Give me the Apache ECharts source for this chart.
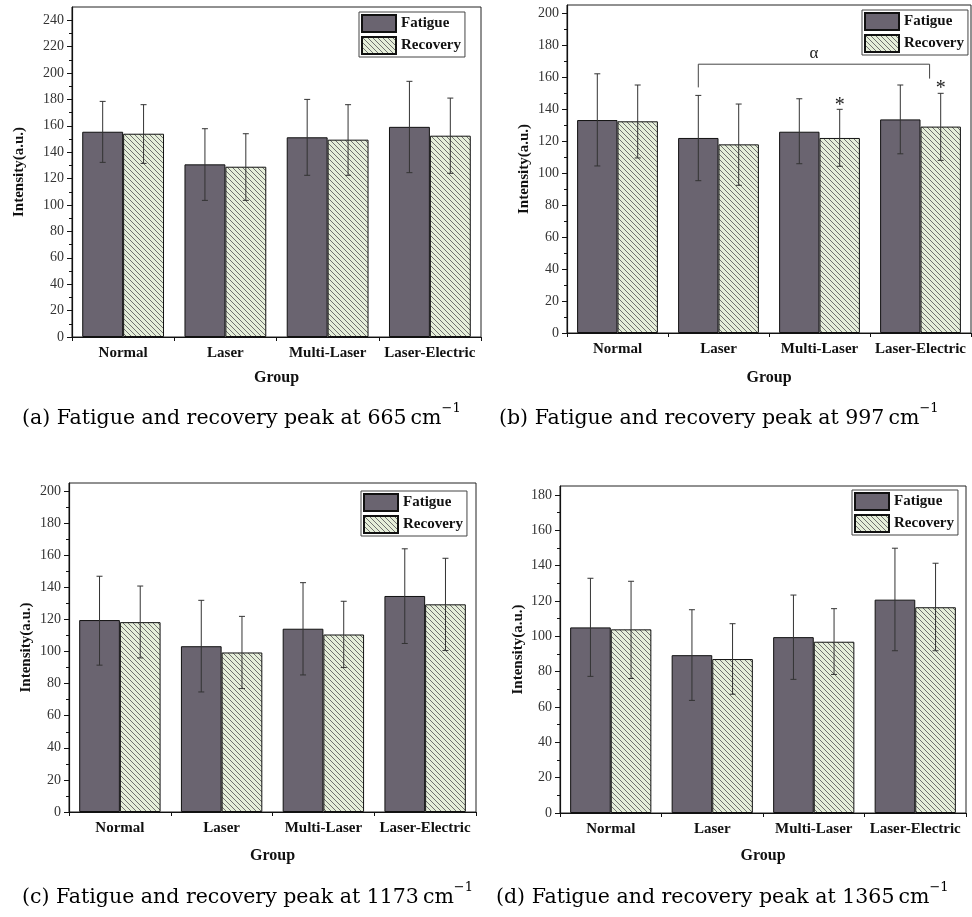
<!DOCTYPE html>
<html><head><meta charset="utf-8">
<script src="https://cdn.jsdelivr.net/npm/echarts@6/dist/echarts.min.js"></script>
<style>html,body{margin:0;padding:0;background:#fff}#c{width:972px;height:917px}</style>
</head><body><div id="c"></div>
<script>
// ---------- data ----------
const categories = ['Normal', 'Laser', 'Multi-Laser', 'Laser-Electric'];
const seriesNames = ['Fatigue', 'Recovery'];

// panel (a) 665 cm-1
const fatigueA = [155.5, 130.8, 151.3, 159.2];
const fatigueHiA = [178.5, 157.8, 180, 193.7];
const fatigueLoA = [132.3, 103.5, 122.5, 124.5];
const recoveryA = [154, 129, 149.5, 152.5];
const recoveryHiA = [176, 154, 176, 181];
const recoveryLoA = [131.5, 103.5, 122.5, 124];

// panel (b) 997 cm-1
const fatigueB = [133.1, 121.9, 125.8, 133.5];
const fatigueHiB = [162, 148.5, 146.4, 155];
const fatigueLoB = [104.4, 95.2, 105.8, 112];
const recoveryB = [132.3, 117.9, 121.9, 129];
const recoveryHiB = [155, 143.1, 139.8, 149.8];
const recoveryLoB = [109.4, 92.3, 104.2, 107.9];

// panel (c) 1173 cm-1
const fatigueC = [119.6, 103.3, 114.2, 134.6];
const fatigueHiC = [146.9, 131.9, 142.9, 164];
const fatigueLoC = [91.5, 74.8, 85.4, 105];
const recoveryC = [118.3, 99.4, 110.6, 129.4];
const recoveryHiC = [140.8, 121.9, 131.3, 158.1];
const recoveryLoC = [96, 76.9, 90, 100.6];

// panel (d) 1365 cm-1
const fatigueD = [105, 89.3, 99.5, 120.7];
const fatigueHiD = [132.8, 115, 123.3, 149.8];
const fatigueLoD = [77.3, 63.7, 75.6, 91.8];
const recoveryD = [103.9, 87.1, 96.9, 116.4];
const recoveryHiD = [131.1, 107.1, 115.6, 141.3];
const recoveryLoD = [76.1, 67.2, 78.4, 91.8];

// axis ranges and tick labels
const yMaxes = [250, 205, 205, 185];
const yTicksA = [0, 20, 40, 60, 80, 100, 120, 140, 160, 180, 200, 220, 240];
const yTicksB = [0, 20, 40, 60, 80, 100, 120, 140, 160, 180, 200];
const yTicksC = [0, 20, 40, 60, 80, 100, 120, 140, 160, 180, 200];
const yTicksD = [0, 20, 40, 60, 80, 100, 120, 140, 160, 180];

// significance annotations in panel (b): [catFrom, offFrom, catTo, offTo, topValue, leftEndValue, rightEndValue]
const bracketB = [[1, -0.2, 3, 0.09, 168, 153.5, 159]];
const bracketLabel = 'α';
// stars: [category, offset, value]
const starsB = [[2, 0.2, 145.8], [3, 0.2, 156.5]];

const captions = [
  ['(a) Fatigue and recovery peak at 665', 'cm'],
  ['(b) Fatigue and recovery peak at 997', 'cm'],
  ['(c) Fatigue and recovery peak at 1173', 'cm'],
  ['(d) Fatigue and recovery peak at 1365', 'cm']
];

// ---------- layout ----------
const grids = [
  {left: 72, top: 7, width: 409, height: 330},
  {left: 567, top: 5, width: 404, height: 328},
  {left: 69, top: 483, width: 407, height: 329},
  {left: 560, top: 486, width: 406, height: 327}
];
const yNameGaps = [45, 35, 35, 34];
const xNameGaps = [33, 37, 36, 35];
const legendPos = [[359, 12], [862, 10], [361, 491], [852, 490]];
const captionPos = [[22, 402], [499, 402], [22, 881], [496, 881]];

const panels = [
  {f: fatigueA, fh: fatigueHiA, fl: fatigueLoA, r: recoveryA, rh: recoveryHiA, rl: recoveryLoA, ticks: yTicksA},
  {f: fatigueB, fh: fatigueHiB, fl: fatigueLoB, r: recoveryB, rh: recoveryHiB, rl: recoveryLoB, ticks: yTicksB},
  {f: fatigueC, fh: fatigueHiC, fl: fatigueLoC, r: recoveryC, rh: recoveryHiC, rl: recoveryLoC, ticks: yTicksC},
  {f: fatigueD, fh: fatigueHiD, fl: fatigueLoD, r: recoveryD, rh: recoveryHiD, rl: recoveryLoD, ticks: yTicksD}
];

// hatch pattern
function makeHatch() {
  const s = 5;
  const cv = document.createElement('canvas');
  cv.width = s; cv.height = s;
  const ctx = cv.getContext('2d');
  ctx.fillStyle = '#e5eed9';
  ctx.fillRect(0, 0, s, s);
  ctx.strokeStyle = '#707070';
  ctx.lineWidth = 1;
  ctx.beginPath();
  ctx.moveTo(-1, -1); ctx.lineTo(s + 1, s + 1);
  ctx.moveTo(-1, s - 1); ctx.lineTo(1, s + 1);
  ctx.moveTo(s - 1, -1); ctx.lineTo(s + 1, 1);
  ctx.stroke();
  return cv;
}
const hatch = makeHatch();

const FONT = 'Liberation Serif, Times New Roman, serif';
const CAPFONT = 'DejaVu Serif, serif';
const fatigueColor = '#6a6470';

const option = {
  animation: false,
  backgroundColor: '#fff',
  grid: [], xAxis: [], yAxis: [], series: [], legend: [], graphic: []
};

panels.forEach((p, i) => {
  option.grid.push(Object.assign({show: true, borderColor: '#222', borderWidth: 1, backgroundColor: 'transparent'}, grids[i]));
  option.xAxis.push({
    type: 'category', gridIndex: i, data: categories,
    name: 'Group', nameLocation: 'middle', nameGap: xNameGaps[i],
    nameTextStyle: {fontFamily: FONT, fontWeight: 'bold', fontSize: 16, color: '#111'},
    axisLine: {lineStyle: {color: '#111', width: 1.2}},
    axisTick: {show: true, interval: 0, length: 4, lineStyle: {color: '#111'}},
    axisLabel: {interval: 0, fontFamily: FONT, fontWeight: 'bold', fontSize: 15, color: '#111', margin: 9},
    splitLine: {show: false}
  });
  option.yAxis.push({
    type: 'value', gridIndex: i, min: 0, max: yMaxes[i], interval: 20,
    name: 'Intensity(a.u.)', nameLocation: 'middle', nameGap: yNameGaps[i], nameRotate: 90,
    nameTextStyle: {fontFamily: FONT, fontWeight: 'bold', fontSize: 15, color: '#111'},
    axisLine: {show: true, lineStyle: {color: '#111', width: 1.2}},
    axisTick: {show: true, length: 5, lineStyle: {color: '#111'}, customValues: p.ticks},
    minorTick: {show: true, splitNumber: 2, length: 3, lineStyle: {color: '#111'}},
    axisLabel: {fontFamily: FONT, fontSize: 14, color: '#333', margin: 8, customValues: p.ticks},
    splitLine: {show: false}
  });
  option.series.push({
    type: 'bar', name: seriesNames[0], xAxisIndex: i, yAxisIndex: i, data: p.f,
    barGap: '0%', barCategoryGap: '20%',
    itemStyle: {color: fatigueColor, borderColor: '#111', borderWidth: 1}
  });
  option.series.push({
    type: 'bar', name: seriesNames[1], xAxisIndex: i, yAxisIndex: i, data: p.r,
    barGap: '0%', barCategoryGap: '20%',
    itemStyle: {color: {image: hatch, repeat: 'repeat'}, borderColor: '#111', borderWidth: 1}
  });
  const errData = [];
  p.f.forEach((v, k) => errData.push([k, p.fl[k], p.fh[k], -1]));
  p.r.forEach((v, k) => errData.push([k, p.rl[k], p.rh[k], 1]));
  option.series.push({
    type: 'custom', name: 'err', xAxisIndex: i, yAxisIndex: i, z: 5, silent: true,
    encode: {x: 0, y: [1, 2]}, data: errData,
    renderItem: function (params, api) {
      const k = api.value(0), lo = api.value(1), hi = api.value(2), side = api.value(3);
      const band = api.size([1, 0])[0];
      const pl = api.coord([k, lo]), ph = api.coord([k, hi]);
      const x = pl[0] + side * band * 0.2;
      const cap = 3;
      const st = {stroke: '#333', lineWidth: 1};
      return {type: 'group', children: [
        {type: 'line', shape: {x1: x, y1: pl[1], x2: x, y2: ph[1]}, style: st},
        {type: 'line', shape: {x1: x - cap, y1: ph[1], x2: x + cap, y2: ph[1]}, style: st},
        {type: 'line', shape: {x1: x - cap, y1: pl[1], x2: x + cap, y2: pl[1]}, style: st}
      ]};
    }
  });
  option.legend.push({
    left: legendPos[i][0], top: legendPos[i][1], orient: 'vertical',
    data: seriesNames, icon: 'rect', itemWidth: 34, itemHeight: 17, itemGap: 3,
    borderColor: '#444', borderWidth: 1, padding: [2, 4, 2, 2], selectedMode: false,
    textStyle: {fontFamily: FONT, fontWeight: 'bold', fontSize: 15, color: '#111'}
  });
  option.graphic.push({
    type: 'text', left: captionPos[i][0], top: captionPos[i][1],
    style: {
      text: '{m|' + captions[i][0] + '\u2009' + captions[i][1] + '}{s|\u22121}',
      rich: {
        m: {fontFamily: CAPFONT, fontSize: 20.5, color: '#111', lineHeight: 27, verticalAlign: 'bottom'},
        s: {fontFamily: CAPFONT, fontSize: 13, color: '#111', lineHeight: 27, verticalAlign: 'top'}
      }
    }
  });
});

// annotations for panel (b)
option.series.push({
  type: 'custom', name: 'bracket', xAxisIndex: 1, yAxisIndex: 1, z: 6, silent: true,
  encode: {x: [0, 2], y: [4, 5, 6]}, data: bracketB,
  renderItem: function (params, api) {
    const band = api.size([1, 0])[0];
    const pTop1 = api.coord([api.value(0), api.value(4)]);
    const pTop2 = api.coord([api.value(2), api.value(4)]);
    const x1 = pTop1[0] + api.value(1) * band;
    const x2 = pTop2[0] + api.value(3) * band;
    const yL = api.coord([api.value(0), api.value(5)])[1];
    const yR = api.coord([api.value(2), api.value(6)])[1];
    const yT = pTop1[1];
    return {type: 'group', children: [
      {type: 'polyline', shape: {points: [[x1, yL], [x1, yT], [x2, yT], [x2, yR]]}, style: {stroke: '#444', lineWidth: 1, fill: null}},
      {type: 'text', x: (x1 + x2) / 2, y: yT - 2, style: {text: bracketLabel, fontFamily: FONT, fontSize: 17, fill: '#222', align: 'center', verticalAlign: 'bottom'}}
    ]};
  }
});
option.series.push({
  type: 'custom', name: 'stars', xAxisIndex: 1, yAxisIndex: 1, z: 6, silent: true,
  encode: {x: 0, y: 2}, data: starsB,
  renderItem: function (params, api) {
    const band = api.size([1, 0])[0];
    const p = api.coord([api.value(0), api.value(2)]);
    return {type: 'text', x: p[0] + api.value(1) * band, y: p[1] + 6,
      style: {text: '*', fontFamily: FONT, fontSize: 20, fill: '#222', align: 'center', verticalAlign: 'middle'}};
  }
});

const chart = echarts.init(document.getElementById('c'), null, {renderer: 'canvas'});
chart.setOption(option);
</script>
</body></html>
